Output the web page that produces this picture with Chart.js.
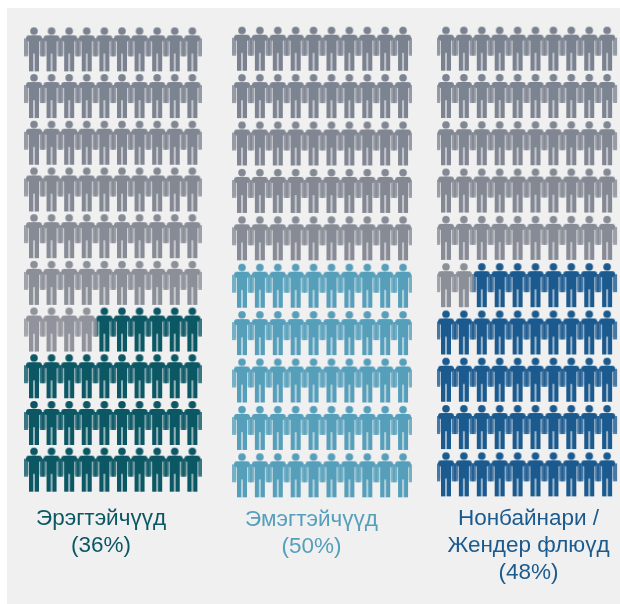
<!DOCTYPE html>
<html>
<head>
<meta charset="utf-8">
<title>Waffle</title>
<script src="https://cdn.jsdelivr.net/npm/chart.js@4"></script>
<style>
  html, body { margin: 0; padding: 0; background: #fff; }
  body { position: relative; width: 620px; height: 604px; overflow: hidden; }
  #panel { position: absolute; left: 7px; top: 8px; right: 0; bottom: 0; background: #f0f0f0; }
  canvas { position: absolute; top: 0; }
</style>
</head>
<body>
<div id="panel"></div>
<canvas id="chart-0" width="202" height="604" style="left:0px"></canvas>
<canvas id="chart-1" width="201" height="604" style="left:211px"></canvas>
<canvas id="chart-2" width="183" height="604" style="left:437px"></canvas>
<script>
// values
const labels = [
    ['Эрэгтэйчүүд', '(36%)'],
    ['Эмэгтэйчүүд', '(50%)'],
    ['Нонбайнари /', 'Жендер флюүд', '(48%)']
];
const percents = [36, 50, 48];
const colors = ['#0b5764', '#569fbb', '#1b5a8f'];
// grey people fade a little towards the bottom rows (index 0 = bottom row)
const greyByRow = ['#90939b', '#90939b', '#90939b', '#90939b', '#8b8f98', '#878b95', '#838893', '#808692', '#7d8491', '#7a818f'];
const columns = [0, 1, 2, 3, 4, 5, 6, 7, 8, 9];
const rows = [0, 1, 2, 3, 4, 5, 6, 7, 8, 9];

// column range of each canvas, wider than the grid so the label centres on its own spot
const xRanges = [[-1.93, 9.55], [-1.73, 9.5], [-0.5, 9.72]];
// where each chart area sits inside its canvas
const paddings = [
    { top: 26, bottom: 45 },
    { top: 25, bottom: 44 },
    { top: 25, bottom: 18 }
];
const titlePaddings = [12, 7, 7];

// person icon, drawn once per colour and used as the point style
function makePerson(color) {
    const icon = document.createElement('canvas');
    icon.width = 26;
    icon.height = 48;
    const c = icon.getContext('2d');
    c.filter = 'blur(0.6px)';
    c.fillStyle = color;

    // pale fill between arm and body, it is smeared in the original
    c.globalAlpha = 0.2;
    c.fillRect(3, 14, 20, 15);
    c.globalAlpha = 1;

    c.beginPath();
    c.arc(13, 5.8, 3.8, 0, Math.PI * 2);
    c.fill();

    // shoulders and body
    c.beginPath();
    c.roundRect(5, 10, 16, 6, 3);
    c.rect(8, 12, 10, 16);
    c.fill();

    // legs
    c.fillRect(8, 27, 4.4, 19);
    c.fillRect(13.6, 27, 4.4, 19);

    // arms are a bit lighter where they touch the neighbours
    c.globalAlpha = 0.75;
    c.fillRect(3, 13, 4.2, 18);
    c.fillRect(18.8, 13, 4.2, 18);
    return icon;
}

function buildPoints(percent) {
    // people fill up from the bottom row, right to left
    const filled = [];
    const empty = [];
    rows.forEach(row => {
        columns.slice().reverse().forEach(col => {
            const count = row * columns.length + (columns.length - col);
            (count <= percent ? filled : empty).push({ x: col, y: row });
        });
    });
    return { filled, empty };
}

const greyPeople = greyByRow.map(makePerson);

percents.forEach((percent, i) => {
    const points = buildPoints(percent);
    new Chart(document.getElementById('chart-' + i), {
        type: 'scatter',
        data: {
            datasets: [
                { data: points.empty, pointStyle: ctx => greyPeople[ctx.raw.y], pointRadius: 10, clip: false },
                { data: points.filled, pointStyle: makePerson(colors[i]), pointRadius: 10, clip: false }
            ]
        },
        options: {
            responsive: false,
            animation: false,
            layout: { autoPadding: false, padding: paddings[i] },
            scales: {
                x: { display: false, min: xRanges[i][0], max: xRanges[i][1] },
                y: { display: false, min: -0.5, max: 9.5 }
            },
            plugins: {
                legend: { display: false },
                tooltip: { enabled: false },
                title: {
                    display: true,
                    position: 'bottom',
                    text: labels[i],
                    color: colors[i],
                    padding: { top: titlePaddings[i], bottom: 0 },
                    font: { family: '"Liberation Sans", Arial, sans-serif', size: 22.5, weight: 'normal', lineHeight: 1.2 }
                }
            }
        }
    });
});
</script>
</body>
</html>
